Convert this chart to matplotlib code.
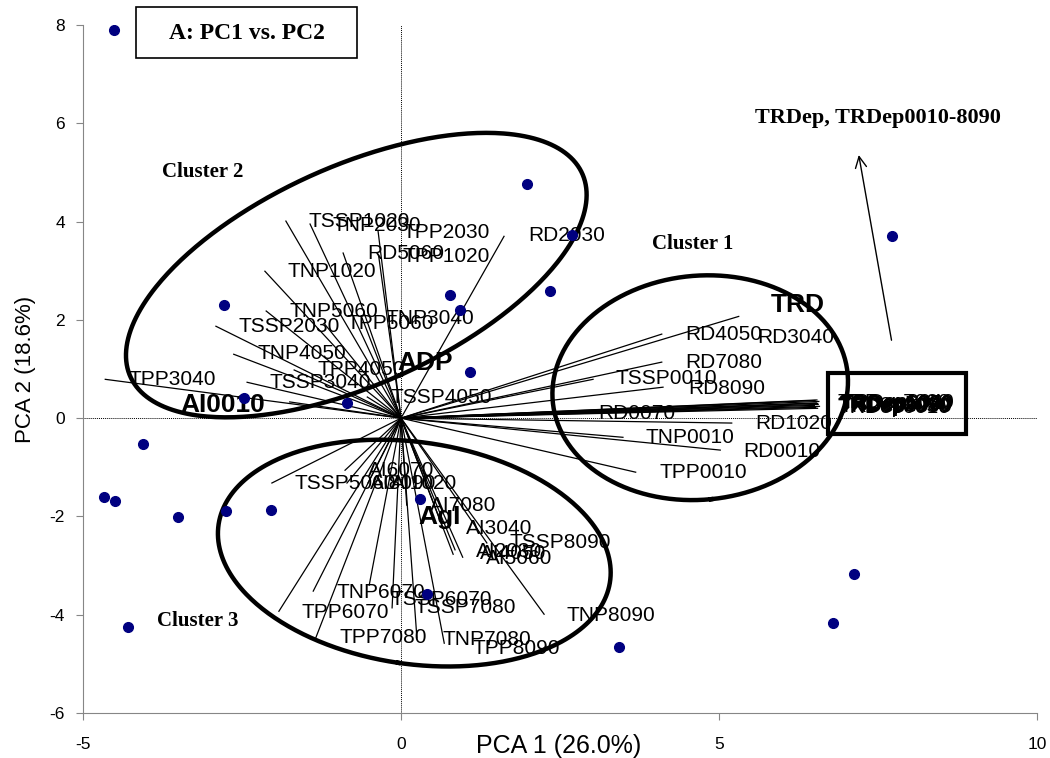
import numpy as np
import matplotlib
matplotlib.use('Agg')
import matplotlib.pyplot as plt
from matplotlib.patches import Rectangle

plt.rcParams['font.family'] = ['Liberation Sans', 'DejaVu Sans']
plt.rcParams['axes.unicode_minus'] = False

W, H = 1050, 758

# PCA scores (samples)
score_x = [-4.51, 1.98, 2.69, 2.34, 0.77, 0.93, 1.08, -2.78, -2.47, -0.85, -4.06, -4.67,
           -4.50, -3.51, -2.75, -2.04, 0.30, 0.41, -4.29, 3.43, 6.79, 7.12, 7.72]
score_y = [7.89, 4.76, 3.72, 2.58, 2.50, 2.20, 0.94, 2.30, 0.41, 0.31, -0.53, -1.61,
           -1.69, -2.01, -1.89, -1.87, -1.65, -3.58, -4.25, -4.66, -4.17, -3.17, 3.70]

# variable loadings (vector end points) and where their labels sit
load_names = ['TSSP1020', 'TNP2030', 'TPP2030', 'RD5060', 'TPP1020', 'TNP1020', 'TNP5060',
              'TPP5060', 'TSSP2030', 'TNP3040', 'TNP4050', 'TPP4050', 'TSSP3040', 'TPP3040',
              'TSSP4050', 'RD2030', '',
              'RD4050', 'RD3040', 'RD7080', 'RD8090', 'TSSP0010', 'RD0070', 'RD1020',
              'TNP0010', 'RD0010', 'TPP0010',
              'TRDep', 'TRDep0010', 'TRDep1020', 'TRDep2030', 'TRDep3040', 'TRDep4050',
              'TRDep5060', 'TRDep6070', 'TRDep7080', 'TRDep8090',
              'TSSP5060', 'AI6070', 'AI8090', 'AI1020', 'AI7080', 'AI3040', 'AI2030', 'AI4050',
              'AI5060', 'TSSP8090', 'TNP8090', 'TNP6070', 'TPP6070', 'TSSP6070', 'TSSP7080',
              'TPP7080', 'TNP7080', 'TPP8090']
load_x = [-1.81, -1.43, -0.36, -0.91, -0.35, -2.14, -2.12, -1.21, -2.91, -0.61, -2.63, -1.68,
          -2.42, -4.65, -0.53, 1.62, -1.75,
          4.10, 5.31, 4.10, 4.12, 3.02, 2.74, 5.20, 3.49, 5.02, 3.69,
          6.55, 6.52, 6.57, 6.50, 6.54, 6.58, 6.53, 6.56, 6.51, 6.55,
          -2.03, -0.88, -0.85, -0.52, 0.09, 0.66, 0.85, 0.82, 0.97, 1.35, 2.25, -1.38, -1.92,
          -0.50, -0.14, -1.34, 0.25, 0.68]
load_y = [4.01, 3.95, 3.80, 3.36, 3.29, 2.99, 2.18, 1.93, 1.87, 2.03, 1.30, 0.98, 0.73, 0.79,
          0.43, 3.70, 0.33,
          1.71, 2.07, 1.14, 0.63, 0.79, 0.10, -0.10, -0.39, -0.65, -1.10,
          0.30, 0.22, 0.34, 0.26, 0.37, 0.24, 0.31, 0.28, 0.36, 0.20,
          -1.32, -1.06, -1.32, -1.32, -1.77, -2.24, -2.68, -2.77, -2.83, -2.54, -3.99, -3.52,
          -3.93, -3.40, -3.86, -4.47, -4.47, -4.58]
label_x = [-1.45, -1.07, 0.02, -0.53, 0.02, -1.78, -1.76, -0.85, -2.55, -0.25, -2.26, -1.32,
           -2.06, -4.29, -0.17, 2.00, 0,
           4.47, 5.60, 4.47, 4.51, 3.38, 3.10, 5.57, 3.85, 5.38, 4.06,
           6.90, 6.86, 6.91, 6.88, 6.92, 6.87, 6.89, 6.91, 6.86, 6.90,
           -1.67, -0.52, -0.49, -0.16, 0.46, 1.02, 1.18, 1.24, 1.33, 1.71, 2.61, -1.01, -1.56,
           -0.17, 0.22, -0.96, 0.66, 1.12]
label_y = [4.01, 3.93, 3.78, 3.36, 3.29, 2.99, 2.18, 1.93, 1.87, 2.03, 1.32, 0.98, 0.73, 0.79,
           0.43, 3.72, 0,
           1.71, 1.65, 1.14, 0.61, 0.81, 0.10, -0.10, -0.39, -0.67, -1.10,
           0.28, 0.22, 0.30, 0.25, 0.32, 0.24, 0.27, 0.29, 0.31, 0.23,
           -1.32, -1.06, -1.32, -1.32, -1.77, -2.24, -2.72, -2.76, -2.86, -2.54, -4.01, -3.54,
           -3.95, -3.70, -3.86, -4.47, -4.51, -4.68]

# bold group labels
group_names = ['TRD', 'ADP', 'AI0010', 'AgI']
group_x = [6.24, 0.38, -2.80, 0.61]
group_y = [2.30, 1.12, 0.26, -2.01]

fig = plt.figure(figsize=(W / 100, H / 100), dpi=100)
ax = fig.add_axes([83 / W, 45 / H, 954 / W, 688 / H])
ax.set_xlim(-5, 10)
ax.set_ylim(-6, 8)


def draw_ellipse(cx, cy, a, b, ang):
    # ellipse given in picture pixels (y down), like a drawn shape
    t = np.linspace(0, 2 * np.pi, 400)
    th = np.radians(ang)
    px = cx + a * np.cos(t) * np.cos(th) - b * np.sin(t) * np.sin(th)
    py = cy + a * np.cos(t) * np.sin(th) + b * np.sin(t) * np.cos(th)
    d = ax.transData.inverted().transform(np.column_stack([px, H - py]))
    ax.plot(d[:, 0], d[:, 1], color='black', lw=3.2, clip_on=False, zorder=4)


# zero reference lines
ax.axhline(0, color='black', lw=0.7, ls=(0, (1, 1)), zorder=1)
ax.axvline(0, color='black', lw=0.7, ls=(0, (1, 1)), zorder=1)

# loading vectors
for x, y in zip(load_x, load_y):
    ax.plot([0, x], [0, y], color='black', lw=0.9, zorder=2)
for name, x, y in zip(load_names, label_x, label_y):
    if name:
        ax.text(x, y, name, fontsize=15, ha='left', va='center', zorder=5)

for name, x, y in zip(group_names, group_x, group_y):
    ax.text(x, y, name, fontsize=19, fontweight='bold', ha='center', va='center', zorder=5)

ax.plot(score_x, score_y, 'o', color='#000080', ms=7, zorder=6)

# cluster outlines
draw_ellipse(700.2, 387.7, 112.0, 148.1, 84.4)
draw_ellipse(356.3, 275.1, 109.2, 247.7, 65.8)
draw_ellipse(414.3, 553.1, 110.9, 197.8, 98.3)

serif = ['Liberation Serif', 'DejaVu Serif']
ax.text(-3.76, 5.0, 'Cluster 2', family=serif, fontsize=15, fontweight='bold', ha='left', va='center')
ax.text(3.95, 3.55, 'Cluster 1', family=serif, fontsize=15, fontweight='bold', ha='left', va='center')
ax.text(-3.84, -4.12, 'Cluster 3', family=serif, fontsize=15, fontweight='bold', ha='left', va='center')
ax.text(5.57, 6.11, 'TRDep, TRDep0010-8090', family=serif, fontsize=16, fontweight='bold',
        ha='left', va='center')
ax.annotate('', xy=(7.19, 5.41), xytext=(7.72, 1.53),
            arrowprops=dict(arrowstyle='->,head_length=0.8,head_width=0.4', color='black', lw=1))

ax.add_patch(Rectangle((6.71, -0.33), 2.17, 1.25, fill=False, ec='black', lw=3, clip_on=False, zorder=4))
ax.add_patch(Rectangle((-4.17, 7.32), 3.48, 1.04, fill=False, ec='black', lw=1.2, clip_on=False, zorder=4))
ax.text(-2.43, 7.82, 'A: PC1 vs. PC2', family=serif, fontsize=17, fontweight='bold',
        ha='center', va='center')

ax.set_xticks([-5, 0, 5, 10])
ax.set_yticks(range(-6, 9, 2))
ax.tick_params(labelsize=12.5, length=5, color='#868686')
ax.tick_params(axis='x', pad=12)
ax.tick_params(axis='y', pad=8)
for s in ('top', 'right'):
    ax.spines[s].set_visible(False)
for s in ('left', 'bottom'):
    ax.spines[s].set_color('#868686')
ax.set_xlabel('PCA 1 (26.0%)', fontsize=18, va='center')
ax.xaxis.set_label_coords(0.499, -0.048)
ax.set_ylabel('PCA 2 (18.6%)', fontsize=16, labelpad=10)

fig.savefig('out.png', dpi=100)
